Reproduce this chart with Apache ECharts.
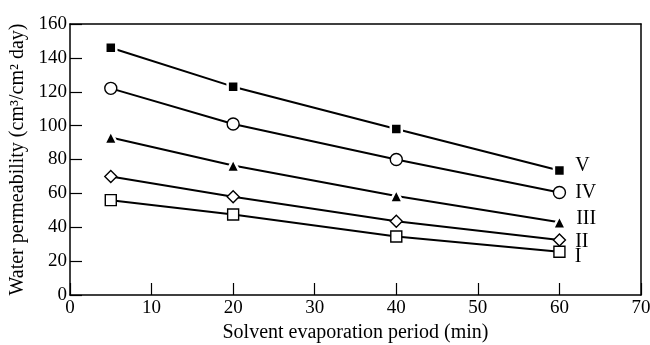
<!DOCTYPE html>
<html>
<head>
<meta charset="utf-8">
<script src="https://cdn.jsdelivr.net/npm/echarts@6/dist/echarts.min.js"></script>
<style>html,body{margin:0;padding:0;background:#fff}#c{width:650px;height:345px}</style>
</head>
<body>
<div id="c"></div>
<script>
var xValues = [5, 20, 40, 60];
var seriesNames = ['V', 'IV', 'III', 'II', 'I'];
var valuesV = [146, 123, 98, 73.5];
var valuesIV = [122, 101, 80, 60.5];
var valuesIII = [93, 76.5, 58.5, 43];
var valuesII = [70, 58, 43.5, 32.5];
var valuesI = [56, 47.5, 34.5, 25.5];
var xTicks = [0, 10, 20, 30, 40, 50, 60, 70];
var yTicks = [0, 20, 40, 60, 80, 100, 120, 140, 160];

var allValues = [valuesV, valuesIV, valuesIII, valuesII, valuesI];
var symbols = ['rect', 'circle', 'triangle', 'diamond', 'rect'];
var filled = [true, false, true, false, false];
var sizes = [11, 12, 13, 12, 11];
var labelOffsets = [[0, -5], [0, 0], [0, -3], [0, 2], [0, 5]];

var chart = echarts.init(document.getElementById('c'), null, {renderer: 'canvas'});
var font = 'Liberation Serif';
var series = allValues.map(function (vals, i) {
  return {
    name: seriesNames[i],
    type: 'line',
    data: vals.map(function (v, j) {
      var item = {value: [xValues[j], v]};
      if (j === vals.length - 1) {
        item.label = {
          show: true, position: 'right', distance: 9,
          formatter: seriesNames[i], offset: labelOffsets[i],
          color: '#000', fontFamily: font, fontSize: 20
        };
      }
      return item;
    }),
    symbol: symbols[i],
    symbolSize: sizes[i],
    showAllSymbol: true,
    lineStyle: {color: '#000', width: 2},
    itemStyle: {
      color: filled[i] ? '#000' : '#fff',
      borderColor: filled[i] ? '#fff' : '#000',
      borderWidth: filled[i] ? 2.5 : 1.4
    },
    emphasis: {disabled: true},
    animation: false,
    z: 3
  };
});

chart.setOption({
  backgroundColor: '#fff',
  animation: false,
  grid: {left: 70, right: 9, top: 24, bottom: 50, show: false, containLabel: false, outerBoundsMode: 'none'},
  xAxis: [{
    type: 'value', min: 0, max: 70, interval: 10,
    name: 'Solvent evaporation period (min)',
    nameLocation: 'middle', nameGap: 25,
    nameTextStyle: {color: '#000', fontFamily: font, fontSize: 20},
    axisLine: {show: true, lineStyle: {color: '#000', width: 1.5}},
    axisTick: {show: true, inside: true, length: 12, lineStyle: {color: '#000', width: 1.2}},
    axisLabel: {color: '#000', fontFamily: font, fontSize: 19, margin: 4,
      formatter: function (v) { return xTicks.indexOf(v) >= 0 ? String(v) : ''; }},
    splitLine: {show: false}
  }, {
    type: 'value', min: 0, max: 70, position: 'top',
    axisLine: {show: true, onZero: false, lineStyle: {color: '#000', width: 1.5}},
    axisTick: {show: false}, axisLabel: {show: false}, splitLine: {show: false}
  }],
  yAxis: [{
    type: 'value', min: 0, max: 160, interval: 20,
    name: 'Water permeability (cm³/cm² day)',
    nameLocation: 'middle', nameGap: 40,
    nameTextStyle: {color: '#000', fontFamily: font, fontSize: 20},
    axisLine: {show: true, lineStyle: {color: '#000', width: 1.5}},
    axisTick: {show: true, inside: true, length: 12, lineStyle: {color: '#000', width: 1.2}},
    axisLabel: {color: '#000', fontFamily: font, fontSize: 19, margin: 3,
      formatter: function (v) { return yTicks.indexOf(v) >= 0 ? String(v) : ''; }},
    splitLine: {show: false}
  }, {
    type: 'value', min: 0, max: 160, position: 'right',
    axisLine: {show: true, onZero: false, lineStyle: {color: '#000', width: 1.5}},
    axisTick: {show: false}, axisLabel: {show: false}, splitLine: {show: false}
  }],
  series: series
});
</script>
</body>
</html>
